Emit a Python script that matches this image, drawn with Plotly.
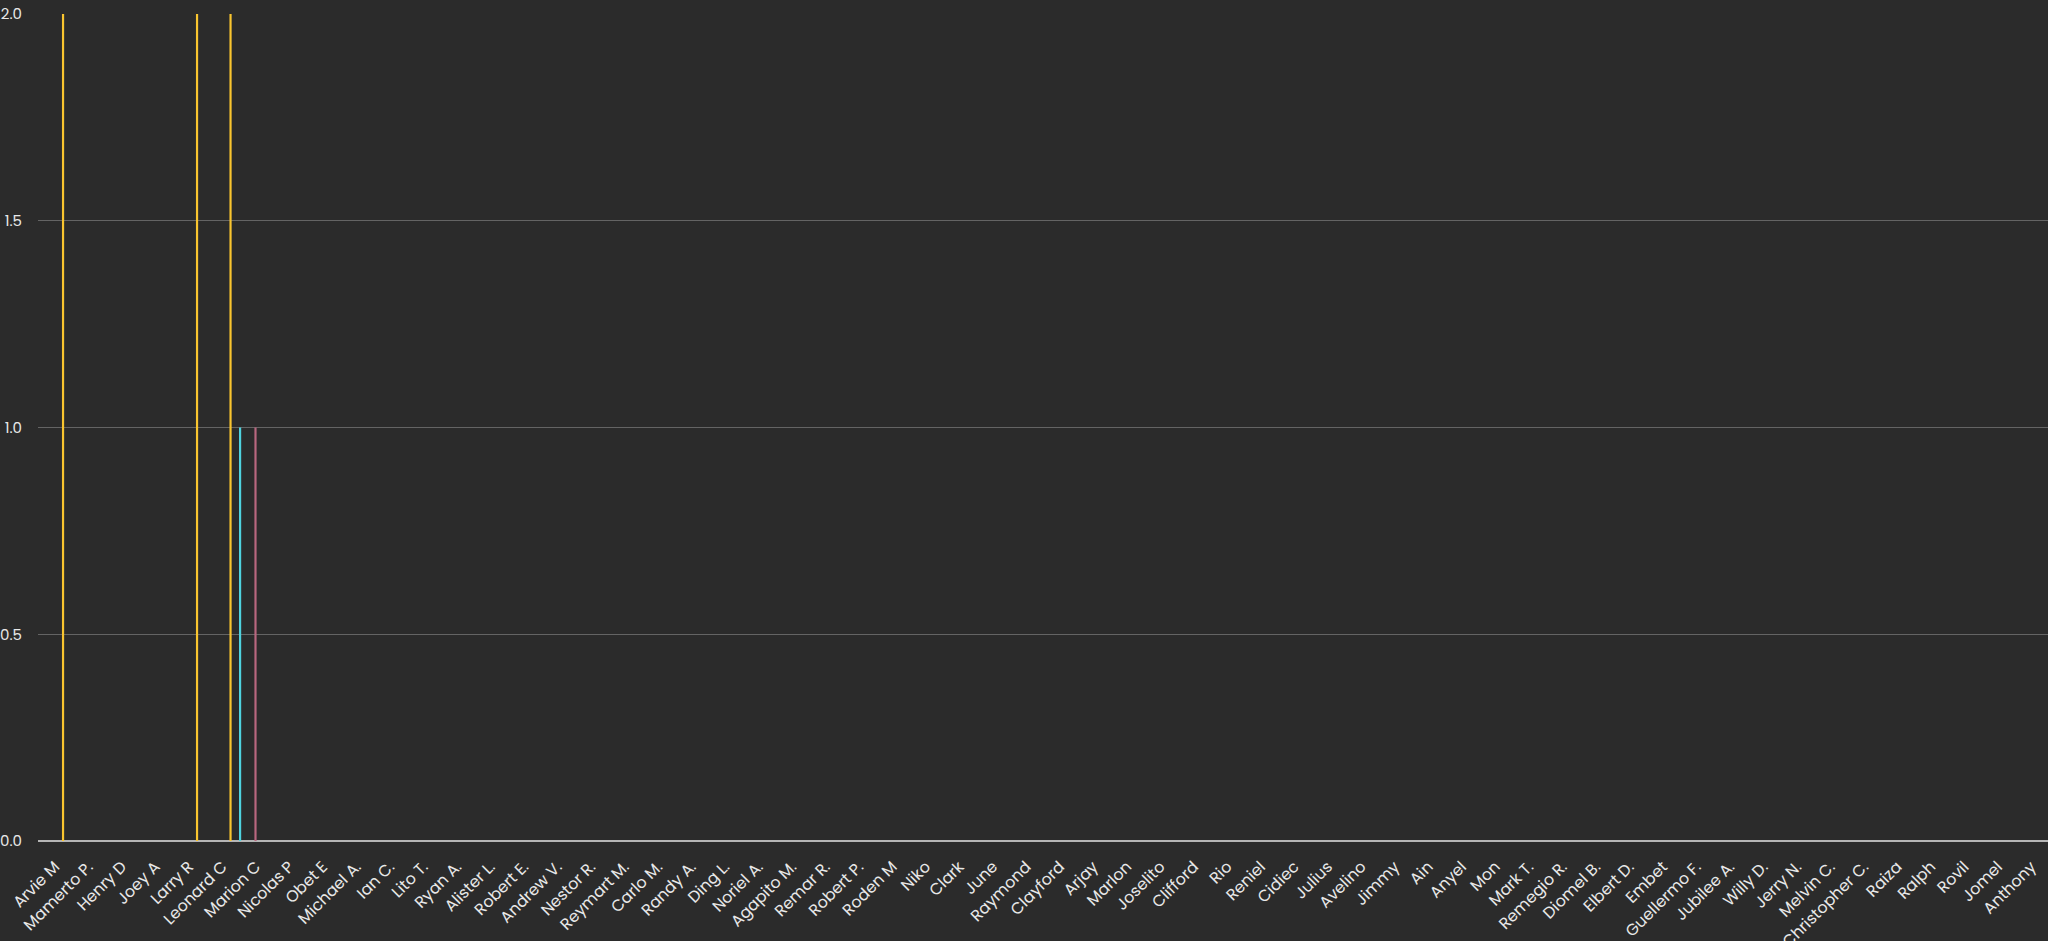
import plotly.graph_objects as go

categories = [
    "Arvie M", "Mamerto P.", "Henry D", "Joey A", "Larry R", "Leonard C", "Marion C",
    "Nicolas P", "Obet E", "Michael A.", "Ian C.", "Lito T.", "Ryan A.", "Alister L.",
    "Robert E.", "Andrew V.", "Nestor R.", "Reymart M.", "Carlo M.", "Randy A.",
    "Ding L.", "Noriel A.", "Agapito M.", "Remar R.", "Robert P.", "Roden M", "Niko",
    "Clark", "June", "Raymond", "Clayford", "Arjay", "Marlon", "Joselito", "Clifford",
    "Rio", "Reniel", "Cidiec", "Julius", "Avelino", "Jimmy", "Ain", "Anyel", "Mon",
    "Mark T.", "Remegio R.", "Diomel B.", "Elbert D.", "Embet", "Guellermo F.",
    "Jubilee A.", "Willy D.", "Jerry N.", "Melvin C.", "Christopher C.", "Raiza",
    "Ralph", "Rovil", "Jomel", "Anthony",
]

# Series values (non-listed categories are 0)
series_yellow = {"Arvie M": 2, "Larry R": 2, "Leonard C": 2}
series_cyan = {"Marion C": 1}
series_pink = {"Marion C": 1}

y_ticks = [0, 0.5, 1.0, 1.5, 2.0]

styles = [
    ("Series 1", series_yellow, "#f9c52f", 0.215),
    ("Series 2", series_cyan, "#4fd3df", -0.50),
    ("Series 3", series_pink, "#b8677f", -0.04),
]

fig = go.Figure()
for name, data, color, off in styles:
    fig.add_trace(go.Bar(
        x=categories,
        y=[data.get(c, 0) for c in categories],
        name=name,
        marker=dict(color=color, line=dict(width=0)),
        width=0.065,
        offset=off,
        showlegend=False,
    ))

font_family = "Poppins, Inter, 'Open Sans', sans-serif"
fig.update_layout(
    width=2048, height=941,
    paper_bgcolor="#2b2b2b", plot_bgcolor="#2b2b2b",
    margin=dict(l=38, r=0, t=14, b=100, autoexpand=False),
    barmode="overlay",
    font=dict(family=font_family, color="#e6e6e6", size=15),
    xaxis=dict(
        type="category",
        automargin=False,
        tickangle=-45,
        showgrid=False,
        showline=False,
        ticks="outside",
        ticklen=9,
        tickcolor="rgba(0,0,0,0)",
        tickfont=dict(size=16, color="#e8e8e8"),
        range=[-0.5, len(categories) - 0.5],
    ),
    yaxis=dict(
        automargin=False,
        range=[0, 2],
        tickvals=y_ticks,
        tickformat=".1f",
        showgrid=True,
        gridcolor="#646464",
        gridwidth=1,
        zeroline=True,
        zerolinecolor="#b5b5b5",
        zerolinewidth=1.5,
        ticks="outside",
        ticklen=12,
        tickcolor="rgba(0,0,0,0)",
        tickfont=dict(size=15, color="#e8e8e8"),
        showline=False,
    ),
)

fig.write_html(
    "out.html",
    config={"displayModeBar": False},
    post_script="document.documentElement.style.margin='0';document.body.style.margin='0';"
                "document.body.style.overflow='hidden';document.body.style.background='#2b2b2b';",
)
